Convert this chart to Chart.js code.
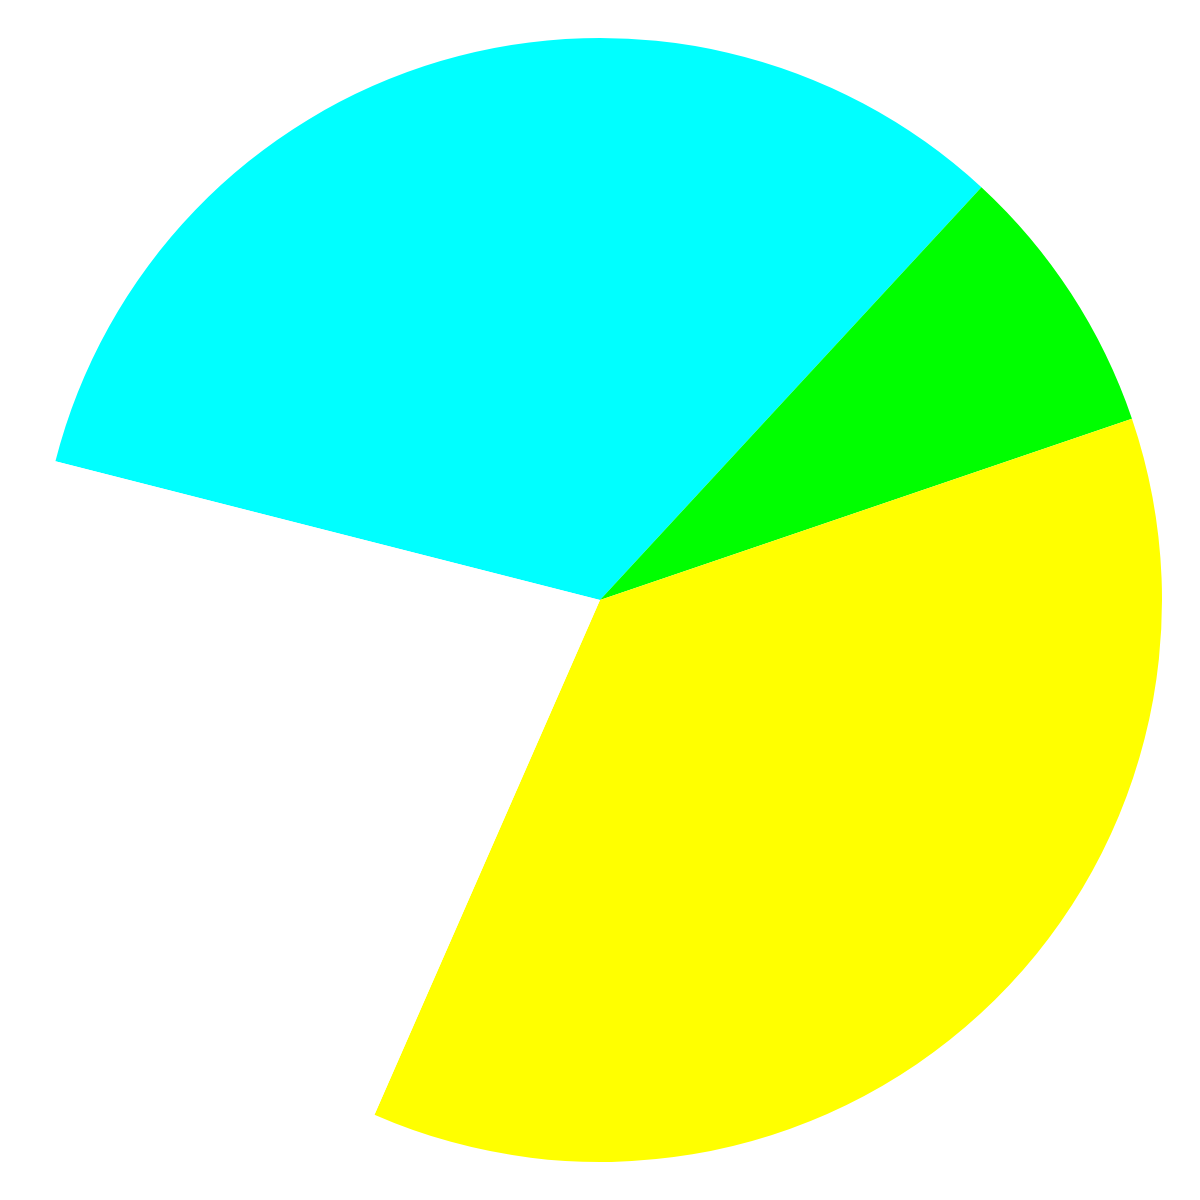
<!DOCTYPE html>
<html>
<head>
<meta charset="utf-8">
<script src="https://cdn.jsdelivr.net/npm/chart.js@4/dist/chart.umd.min.js"></script>
<style>
  html, body { margin: 0; padding: 0; background: #ffffff; }
  #wrap { width: 1200px; height: 1200px; }
</style>
</head>
<body>
<div id="wrap"><canvas id="c" width="1200" height="1200"></canvas></div>
<script>
const categories = ["Cyan", "Green", "Yellow", "White"];
const values = [32.9, 7.9, 36.8, 22.4];
const sliceColors = ["#00ffff", "#00ff00", "#ffff00", "#ffffff"];

new Chart(document.getElementById("c"), {
  type: "pie",
  data: {
    labels: categories,
    datasets: [{
      data: values,
      backgroundColor: sliceColors,
      borderWidth: 0
    }]
  },
  options: {
    responsive: false,
    animation: false,
    rotation: -75.7,
    layout: { padding: 38 },
    plugins: {
      legend: { display: false },
      tooltip: { enabled: false }
    }
  }
});
</script>
</body>
</html>
